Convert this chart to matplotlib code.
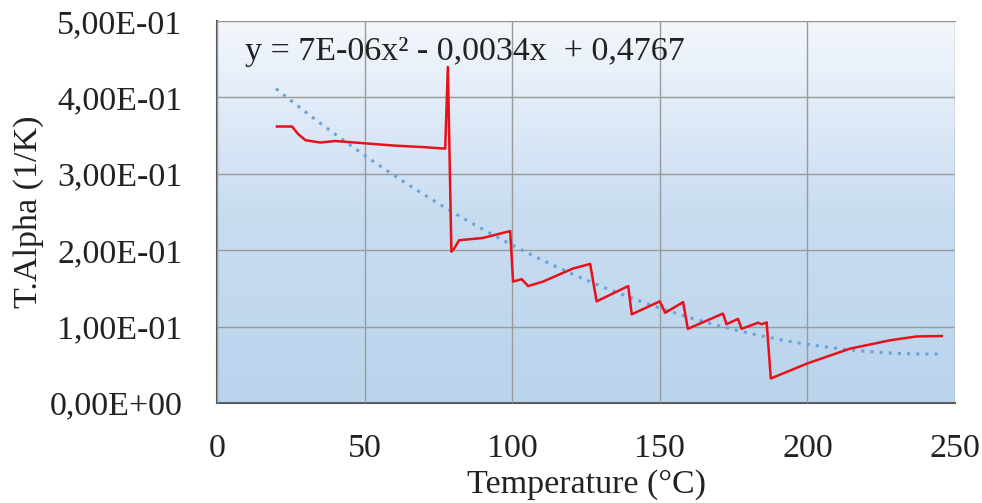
import numpy as np
import matplotlib.pyplot as plt
from matplotlib.colors import LinearSegmentedColormap

temp = [20.3, 25.4, 27.5, 30.0, 35.0, 40.0, 50.0, 60.0, 70.0, 77.3, 78.2, 79.4, 80.5, 82.0,
        90.0, 99.3, 100.3, 103.2, 105.4, 110.5, 120.6, 126.4, 128.6, 139.3, 140.5, 150.0,
        151.8, 157.9, 159.5, 171.4, 172.6, 176.5, 177.7, 183.3, 184.5, 186.2, 187.6,
        200.2, 214.4, 228.0, 237.0, 245.5]
alpha = [0.362, 0.362, 0.352, 0.344, 0.341, 0.343, 0.340, 0.337, 0.335, 0.333, 0.440, 0.198,
         0.203, 0.213, 0.216, 0.225, 0.159, 0.162, 0.153, 0.159, 0.176, 0.182, 0.133, 0.153,
         0.116, 0.133, 0.118, 0.132, 0.097, 0.117, 0.103, 0.110, 0.097, 0.105, 0.103, 0.1055,
         0.032, 0.052, 0.071, 0.082, 0.087, 0.0876]

# polynomial trendline shown on the chart
coef = [7e-06, -0.0034, 0.4767]
trend_x = np.linspace(20, 245, 200)
trend_y = np.polyval(coef, trend_x)

xticks = [0, 50, 100, 150, 200, 250]
yticks = [0, 0.1, 0.2, 0.3, 0.4, 0.5]
ytick_labels = ['0,00E+00', '1,00E-01', '2,00E-01', '3,00E-01', '4,00E-01', '5,00E-01']

plt.rcParams['font.family'] = ['Liberation Serif', 'DejaVu Serif']

fig = plt.figure(figsize=(9.82, 5.03), dpi=100)
ax = fig.add_axes([0.221, 0.199, 0.7515, 0.759])

# gradient background of plot area
grad = LinearSegmentedColormap.from_list('bg', ['#bad4ec', '#c9ddf1', '#f3f7fc'])
ax.imshow(np.linspace(0, 1, 256).reshape(-1, 1), cmap=grad, aspect='auto',
          origin='lower', extent=[0, 1, 0, 1], transform=ax.transAxes, zorder=0)

ax.plot(trend_x, trend_y, color='#6aa3d8', lw=2.2, ls=(0, (1, 2)), zorder=3)
ax.plot(temp, alpha, color='#e8101a', lw=1.8, zorder=4)

ax.set_xlim(0, 250)
ax.set_ylim(0, 0.5)
ax.set_xticks(xticks)
ax.set_yticks(yticks)
ax.set_yticklabels(ytick_labels)
ax.tick_params(length=0, labelsize=24.5, colors='#222222')
ax.tick_params(axis='x', pad=22)
ax.tick_params(axis='y', pad=25)
ax.grid(True, color='#9a9a9a', lw=1)
ax.set_axisbelow(False)
for s in ['left', 'bottom']:
    ax.spines[s].set_color('#555555')
    ax.spines[s].set_linewidth(1.5)
ax.spines['top'].set_color('#888888')
ax.spines['right'].set_visible(False)

ax.set_xlabel('Temperature (°C)', fontsize=24.5, color='#222222', labelpad=4)
ax.set_ylabel('T.Alpha (1/K)', fontsize=24.5, color='#222222', labelpad=4)

ax.text(0.038, 0.92, 'y = 7E-06x² - 0,0034x  + 0,4767', transform=ax.transAxes,
        fontsize=24.5, color='#222222', va='center', ha='left', zorder=5)

plt.savefig('out.png', dpi=100)
